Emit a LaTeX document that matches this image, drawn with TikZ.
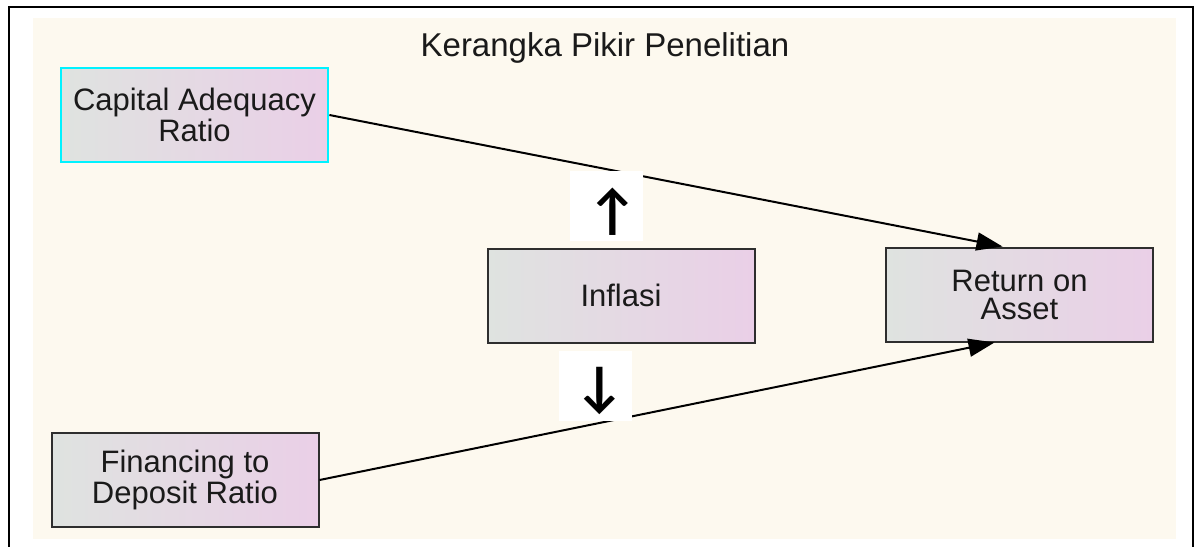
\documentclass[tikz,border=0pt]{standalone}
\usepackage{fontspec}
\setmainfont{Liberation Sans}
\newfontfamily\symfont{Carlito}
\usetikzlibrary{arrows.meta,calc,shadings}
\definecolor{paper}{HTML}{FDF9EF}
\definecolor{boxleft}{HTML}{DFE3E0}
\definecolor{boxmid}{HTML}{E9D4E5}
\definecolor{boxright}{HTML}{EACFE7}
\definecolor{boxline}{HTML}{2E2E2E}
\definecolor{keyline}{HTML}{00F2FF}
\definecolor{inktext}{HTML}{1A1A1A}
\tikzset{
  varbox/.style={draw=boxline, line width=1pt, left color=boxleft, middle color=boxmid,
    right color=boxright,
    minimum width=133.5pt, minimum height=47pt, align=center, text=inktext,
    font=\fontsize{15.5}{14}\selectfont, inner sep=0pt},
  keybox/.style={varbox, draw=keyline, line width=1.4pt},
  link/.style={line width=1pt, -{Triangle[length=13pt,width=9pt]}},
  signbox/.style={fill=white, draw=none, minimum width=36.5pt, minimum height=35pt,
    inner sep=0pt},
  signmark/.style={inner sep=0pt, font=\symfont\bfseries\fontsize{28}{28}\selectfont},
}
\begin{document}
\begin{tikzpicture}[x=0.5pt,y=-0.5pt]
  \useasboundingbox (0,0) rectangle (1196,547);
  \fill[white] (0,0) rectangle (1196,547);
  % outer frame and panel
  \draw[line width=1pt] (9,547) -- (9,7) -- (1193,7) -- (1193,547);
  \fill[paper] (33,18) rectangle (1176,539);
  \node[font=\fontsize{16.5}{18}\selectfont, text=inktext] (title) at (605,48) {Kerangka Pikir Penelitian};
  % variables
  \node[keybox] (car) at (194.5,115) {Capital Adequacy\\Ratio};
  \node[varbox] (inf) at (621,295.5) {Inflasi};
  \node[varbox] (roa) at (1019.5,294.5) {Return on\\Asset};
  \node[varbox] (fdr) at (185,480) {Financing to\\Deposit Ratio};
  % effects on ROA
  \draw[link] (car.east) -- ($(roa.north)+(-17,0)$);
  \draw[link] (fdr.east) -- ($(roa.south)+(-25,0)$);
  % direction markers around the moderating variable
  \node[signbox] (upbox) at (606.5,206) {};
  \node[signmark] (up) at ($(upbox.center)+(6,6)$) {↑};
  \node[signbox] (downbox) at (595.5,385.5) {};
  \node[signmark] (down) at ($(downbox.center)+(4,6)$) {↓};
\end{tikzpicture}
\end{document}
